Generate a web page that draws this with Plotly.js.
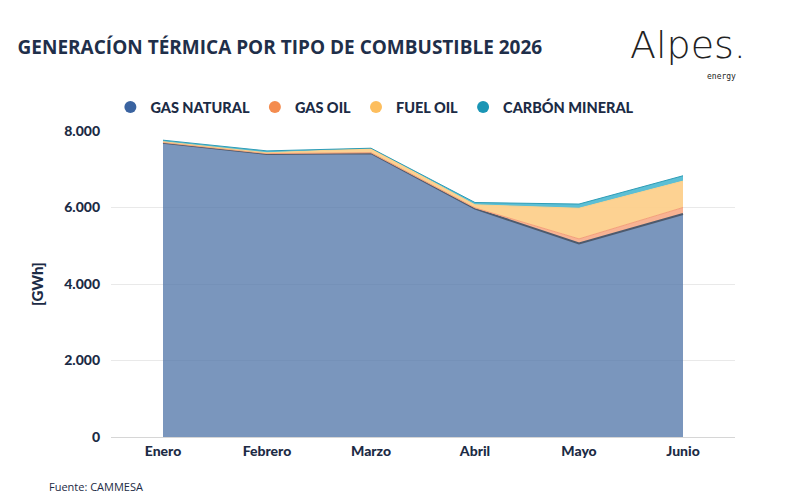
<!DOCTYPE html>
<html><head><meta charset="utf-8">
<script src="https://cdn.plot.ly/plotly-3.0.1.min.js"></script>
<style>body{margin:0;background:#fff}#chart{width:800px;height:500px}</style>
</head><body><div id="chart"></div>
<script>
const months = ["Enero","Febrero","Marzo","Abril","Mayo","Junio"];
const gasNatural = [7690, 7400, 7420, 5970, 5060, 5830];
const gasOil = [10, 10, 10, 20, 120, 170];
const fuelOil = [20, 20, 110, 80, 800, 690];
const carbonMineral = [40, 50, 10, 60, 110, 140];
const yTicks = [0, 2000, 4000, 6000, 8000];

const navy = "#1c2b45";
const series = [
  {name:"GAS NATURAL", y:gasNatural, line:"#4d5a6d", fill:"rgba(85,121,170,0.78)", mk:"#3a63a0"},
  {name:"GAS OIL", y:gasOil, line:"#f4a07a", fill:"rgba(246,160,120,0.8)", mk:"#f48c4f"},
  {name:"FUEL OIL", y:fuelOil, line:"#fcd08a", fill:"rgba(253,208,140,0.95)", mk:"#fdbe5e"},
  {name:"CARBÓN MINERAL", y:carbonMineral, line:"#2e9cb6", fill:"rgba(74,184,208,0.9)", mk:"#1a95b5"}
];
const traces = [];
series.forEach(s => {
  traces.push({x:months, y:s.y, type:"scatter", mode:"lines", stackgroup:"one",
    line:{color:s.line, width:s.name==="GAS NATURAL"?2:1}, fillcolor:s.fill, showlegend:false, hoverinfo:"skip"});
});
series.forEach(s => {
  traces.push({x:[null], y:[null], type:"scatter", mode:"markers", name:s.name,
    marker:{color:s.mk, size:14, symbol:"circle"}, showlegend:true});
});

const layout = {
  width:800, height:500,
  paper_bgcolor:"#fff", plot_bgcolor:"#fff",
  margin:{l:111, r:65, t:131, b:63},
  separators:",.",
  font:{family:"Lato, 'Open Sans', sans-serif", color:navy},
  title:{text:"<b>GENERACÍON TÉRMICA POR TIPO DE COMBUSTIBLE 2026</b>", x:0.022, xanchor:"left", y:0.905, yanchor:"middle",
    font:{family:"'Open Sans', sans-serif", size:19, color:"#1f2f4a"}},
  xaxis:{type:"category", range:[-0.5,5.5], showgrid:false, zeroline:false, showline:false, ticks:"",
    tickfont:{size:14, color:navy, family:"Lato", weight:900}, ticklabelstandoff:4, fixedrange:true},
  yaxis:{range:[0,8000], tickvals:yTicks, tickformat:",d", showgrid:true, gridcolor:"#e9e9e9", gridwidth:1,
    zeroline:true, zerolinecolor:"#d6d6d6", zerolinewidth:1, showline:false, ticks:"",
    tickfont:{size:14, color:navy, family:"Lato", weight:900}, ticklabelstandoff:10,
    title:{text:"[GWh]", font:{size:15, color:navy, family:"Lato", weight:900}, standoff:16}},
  legend:{orientation:"h", traceorder:"normal", x:-0.001, xanchor:"left", y:1.078, yanchor:"middle", font:{size:14.5, color:navy, family:"Lato", weight:900},
    itemsizing:"constant", tracegroupgap:0, itemwidth:30},
  showlegend:true,
  annotations:[
    {text:"Fuente: CAMMESA", xref:"paper", yref:"paper", x:-0.102, xanchor:"left", y:-0.163, yanchor:"middle", showarrow:false,
      font:{size:11, color:"#1c2b45", family:"'Open Sans', sans-serif"}},
    {text:"Alpes.", xref:"paper", yref:"paper", x:0.828, xanchor:"left", y:1.282, yanchor:"middle", showarrow:false,
      font:{size:38, color:"#222", family:"'DejaVu Sans', sans-serif", weight:300}},
    {text:"energy", xref:"paper", yref:"paper", x:1.005, xanchor:"right", y:1.178, yanchor:"middle", showarrow:false,
      font:{size:8, color:"#222", family:"'DejaVu Sans Mono', monospace"}}
  ]
};
Plotly.newPlot("chart", traces, layout, {displayModeBar:false, staticPlot:true});
</script></body></html>
